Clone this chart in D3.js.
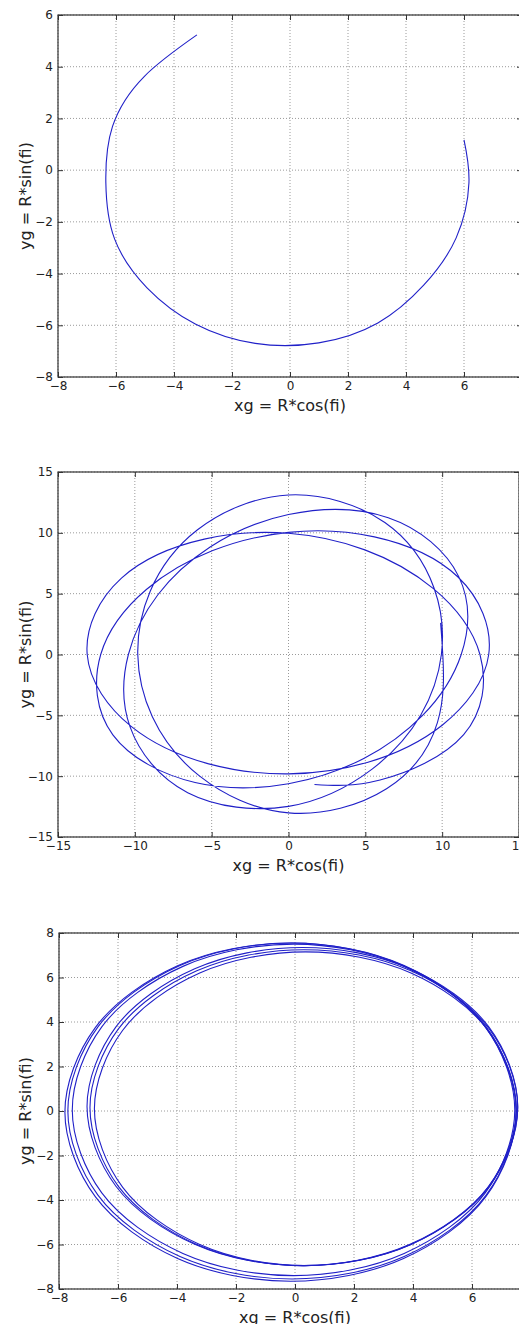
<!DOCTYPE html>
<html>
<head>
<meta charset="utf-8">
<script src="https://cdn.jsdelivr.net/npm/d3@7"></script>
<style>
  body { margin: 0; background: #fff; }
  svg { display: block; font-family: "DejaVu Sans", sans-serif; }
</style>
</head>
<body>
<div id="chart"></div>
<script>
// tick values of the three panels
var xTicks1 = [-8, -6, -4, -2, 0, 2, 4, 6, 8];
var yTicks1 = [-8, -6, -4, -2, 0, 2, 4, 6];
var xTicks2 = [-15, -10, -5, 0, 5, 10, 15];
var yTicks2 = [-15, -10, -5, 0, 5, 10, 15];
var xTicks3 = [-8, -6, -4, -2, 0, 2, 4, 6, 8];
var yTicks3 = [-8, -6, -4, -2, 0, 2, 4, 6, 8];

var xLabel = "xg = R*cos(fi)";
var yLabel = "yg = R*sin(fi)";

// panel 1: one open arc (xg, yg)
var orbit1 = [
  [-3.21, 5.23], [-5.02, 3.63], [-6.12, 1.69], [-6.35, -0.5], [-6.05, -2.66],
  [-4.93, -4.55], [-3.25, -5.96], [-1.2, -6.7], [0.99, -6.68], [3.03, -5.91],
  [4.61, -4.45], [5.73, -2.62], [6.17, -0.5], [6.0, 1.17]
];

// panel 2: precessing orbit, about four and a quarter turns
var orbit2 = [
  [1.69, -10.68], [5.96, -10.31], [11.4, -6.58], [12.46, 0.0], [9.41, 5.43], [4.97, 8.6],
  [0.0, 9.96], [-5.48, 9.48], [-10.87, 6.28], [-13.1, 0.0], [-10.24, -5.91], [-5.19, -8.99],
  [0.0, -9.81], [5.12, -8.87], [10.02, -5.79], [13.03, 0.0], [11.03, 6.37], [5.59, 9.67],
  [0.0, 10.04], [-4.93, 8.54], [-9.25, 5.34], [-12.22, 0.0], [-11.43, -6.6], [-6.08, -10.52],
  [0.0, -10.62], [4.93, -8.53], [8.71, -5.03], [11.24, 0.0], [11.08, 6.4], [6.49, 11.24],
  [0.0, 11.5], [-5.1, 8.83], [-8.5, 4.91], [-10.42, 0.0], [-10.31, -5.95], [-6.56, -11.36],
  [0.0, -12.48], [5.44, -9.42], [8.61, -4.97], [9.95, 0.0], [9.47, 5.47], [6.27, 10.85],
  [0.0, 13.11], [-5.92, 10.25], [-9.0, 5.2], [-9.81, 0.0], [-8.86, -5.12], [-5.78, -10.0],
  [0.0, -13.02], [6.38, -11.04], [9.69, -5.6], [10.04, 0.0], [9.9, 2.6]
];

// panel 3: six nearly closed loops in two bundles
var orbit3a = [
  [-0.1, 7.55], [3.7, 6.54], [6.48, 3.78], [7.5, 0.0], [6.48, -3.78], [3.7, -6.54],
  [-0.1, -7.55], [-3.9, -6.54], [-6.68, -3.78], [-7.7, 0.0], [-6.68, 3.78], [-3.9, 6.54]
];
var orbit3b = [
  [-0.05, 7.5], [3.7, 6.5], [6.45, 3.78], [7.45, 0.05], [6.45, -3.68], [3.7, -6.4],
  [-0.05, -7.4], [-3.8, -6.4], [-6.55, -3.68], [-7.55, 0.05], [-6.55, 3.78], [-3.8, 6.5]
];
var orbit3c = [
  [-0.15, 7.55], [3.68, 6.53], [6.47, 3.75], [7.5, -0.05], [6.47, -3.85], [3.68, -6.63],
  [-0.15, -7.65], [-3.98, -6.63], [-6.77, -3.85], [-7.8, -0.05], [-6.77, 3.75], [-3.98, 6.53]
];
var orbit3d = [
  [0.3, 7.25], [3.93, 6.3], [6.58, 3.7], [7.55, 0.15], [6.58, -3.4], [3.93, -6.0],
  [0.3, -6.95], [-3.33, -6.0], [-5.98, -3.4], [-6.95, 0.15], [-5.98, 3.7], [-3.33, 6.3]
];
var orbit3e = [
  [0.35, 7.15], [3.93, 6.2], [6.54, 3.63], [7.5, 0.1], [6.54, -3.43], [3.93, -6.0],
  [0.35, -6.95], [-3.23, -6.0], [-5.84, -3.43], [-6.8, 0.1], [-5.84, 3.63], [-3.23, 6.2]
];
var orbit3f = [
  [0.25, 7.35], [3.9, 6.39], [6.57, 3.78], [7.55, 0.2], [6.57, -3.38], [3.9, -5.99],
  [0.25, -6.95], [-3.4, -5.99], [-6.07, -3.38], [-7.05, 0.2], [-6.07, 3.78], [-3.4, 6.39]
];

var width = 519, height = 1324;

var svg = d3.select("#chart")
    .append("svg")
    .attr("width", width)
    .attr("height", height);

function drawPanel(id, box, xDom, yDom, xTicks, yTicks, lines, curve) {
    var x = d3.scaleLinear().domain(xDom).range([box.left, box.right]);
    var y = d3.scaleLinear().domain(yDom).range([box.bottom, box.top]);
    var w = box.right - box.left, h = box.bottom - box.top;
    var g = svg.append("g");

    svg.append("clipPath").attr("id", id)
        .append("rect")
        .attr("x", box.left).attr("y", box.top)
        .attr("width", w).attr("height", h);

    // dotted grid
    g.selectAll(".gx").data(xTicks).enter().append("line")
        .attr("x1", d => x(d)).attr("x2", d => x(d))
        .attr("y1", box.top).attr("y2", box.bottom)
        .attr("stroke", "#9a9a9a").attr("stroke-width", 1)
        .attr("stroke-dasharray", "1,2");
    g.selectAll(".gy").data(yTicks).enter().append("line")
        .attr("x1", box.left).attr("x2", box.right)
        .attr("y1", d => y(d)).attr("y2", d => y(d))
        .attr("stroke", "#9a9a9a").attr("stroke-width", 1)
        .attr("stroke-dasharray", "1,2");

    // the curves
    var line = d3.line()
        .x(d => x(d[0]))
        .y(d => y(d[1]))
        .curve(curve);
    g.append("g").attr("clip-path", "url(#" + id + ")")
        .selectAll("path").data(lines).enter().append("path")
        .attr("d", line)
        .attr("fill", "none")
        .attr("stroke", "#2020c8")
        .attr("stroke-width", 1.1);

    // axes, ticks inside on all four sides
    var fmt = d3.format("d");
    var bottomAxis = g.append("g")
        .attr("transform", "translate(0," + box.bottom + ")")
        .call(d3.axisBottom(x).tickValues(xTicks).tickFormat(fmt).tickSize(-5).tickPadding(4.5));
    var leftAxis = g.append("g")
        .attr("transform", "translate(" + box.left + ",0)")
        .call(d3.axisLeft(y).tickValues(yTicks).tickFormat(fmt).tickSize(-5).tickPadding(5));
    var topAxis = g.append("g")
        .attr("transform", "translate(0," + box.top + ")")
        .call(d3.axisTop(x).tickValues(xTicks).tickFormat("").tickSize(-5));
    var rightAxis = g.append("g")
        .attr("transform", "translate(" + box.right + ",0)")
        .call(d3.axisRight(y).tickValues(yTicks).tickFormat("").tickSize(-5));

    [bottomAxis, leftAxis, topAxis, rightAxis].forEach(function(a) {
        a.select(".domain").remove();
        a.selectAll("line").attr("stroke", "#333");
        a.selectAll("text")
            .attr("fill", "#222")
            .style("font-family", "DejaVu Sans, sans-serif")
            .style("font-size", "12px");
    });

    // frame
    g.append("rect")
        .attr("x", box.left).attr("y", box.top)
        .attr("width", w).attr("height", h)
        .attr("fill", "none")
        .attr("stroke", "#333")
        .attr("stroke-width", 1.2);

    // axis labels
    g.append("text")
        .attr("x", (box.left + box.right) / 2)
        .attr("y", box.bottom + 28)
        .attr("dy", "0.35em")
        .attr("text-anchor", "middle")
        .attr("fill", "#222")
        .style("font-size", "16px")
        .text(xLabel);
    g.append("text")
        .attr("transform", "translate(25," + ((box.top + box.bottom) / 2) + ") rotate(-90)")
        .attr("dy", "0.35em")
        .attr("text-anchor", "middle")
        .attr("fill", "#222")
        .style("font-size", "16px")
        .text(yLabel);
}

drawPanel("clip1", {left: 58, right: 522, top: 15, bottom: 377},
    [-8, 8], [-8, 6], xTicks1, yTicks1, [orbit1], d3.curveNatural);
drawPanel("clip2", {left: 58, right: 519, top: 472, bottom: 837},
    [-15, 15], [-15, 15], xTicks2, yTicks2, [orbit2], d3.curveNatural);
drawPanel("clip3", {left: 59, right: 531, top: 933, bottom: 1289},
    [-8, 8], [-8, 8], xTicks3, yTicks3,
    [orbit3a, orbit3b, orbit3c, orbit3d, orbit3e, orbit3f], d3.curveCatmullRomClosed);
</script>
</body>
</html>
